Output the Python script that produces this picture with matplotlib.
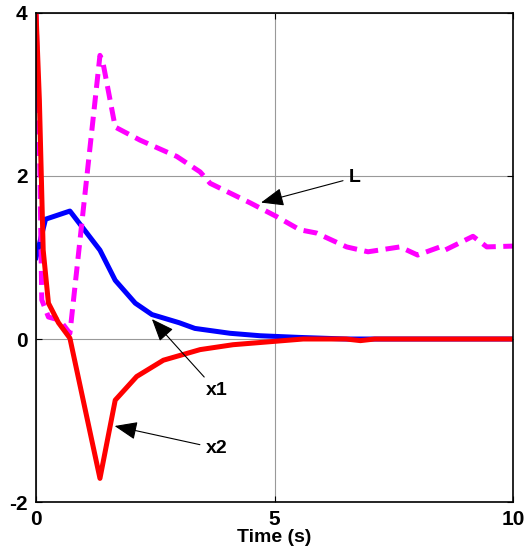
import matplotlib
matplotlib.use("Agg")
from matplotlib import pyplot as plt

plt.rcParams["font.family"] = ["Liberation Sans", "DejaVu Sans"]
plt.rcParams["font.weight"] = "bold"
plt.rcParams["axes.unicode_minus"] = False

# x1 state
t_x1 = [0.0, 0.2, 0.71, 1.34, 1.66, 2.08, 2.43, 3.0, 3.33, 4.07, 4.7, 5.5, 6.5, 10.0]
x1 = [1.0, 1.47, 1.57, 1.09, 0.72, 0.44, 0.30, 0.20, 0.13, 0.07, 0.04, 0.02, 0.0, 0.0]

# x2 state
t_x2 = [0.0, 0.07, 0.15, 0.26, 0.47, 0.71, 1.34, 1.66, 2.11, 2.67, 3.44, 4.13, 4.97,
        5.6, 6.5, 6.8, 7.1, 10.0]
x2 = [4.0, 2.93, 1.09, 0.44, 0.20, 0.01, -1.71, -0.75, -0.46, -0.26, -0.13, -0.07,
      -0.03, 0.0, 0.0, -0.02, 0.0, 0.0]

# L (dashed)
t_L = [0.0, 0.08, 0.12, 0.26, 0.5, 0.71, 1.34, 1.4, 1.66, 2.18, 2.95, 3.44, 3.65,
       4.49, 5.05, 5.53, 5.88, 6.51, 6.96, 7.63, 8.0, 8.47, 8.57, 9.16, 9.45, 10.0]
L = [4.0, 2.1, 0.48, 0.27, 0.23, 0.07, 3.48, 3.4, 2.6, 2.44, 2.24, 2.05, 1.91,
     1.67, 1.5, 1.34, 1.30, 1.13, 1.07, 1.13, 1.03, 1.13, 1.09, 1.26, 1.13, 1.14]

fig = plt.figure(figsize=(5.3, 5.57), dpi=100)
ax = fig.add_axes([0.068, 0.0987, 0.9, 0.878])

ax.plot(t_x1, x1, color="#0000ff", lw=3.6)
ax.plot(t_L, L, color="#ff00ff", lw=3.6, dashes=(2.8, 1.5))
ax.plot(t_x2, x2, color="#ff0000", lw=3.6)

ax.set_xlim(0, 10)
ax.set_ylim(-2, 4)
ax.set_xticks([0, 5, 10])
ax.set_yticks([-2, 0, 2, 4])
ax.grid(True, color="#999999", lw=0.8)
ax.tick_params(direction="in", length=4, labelsize=15, top=True, right=True, pad=6)
ax.set_xlabel("Time (s)", fontsize=14, fontweight="bold", labelpad=0)
for s in ax.spines.values():
    s.set_linewidth(1.2)

arrow = dict(arrowstyle="-|>,head_length=1.0,head_width=0.4", color="black", lw=0.8)
ax.annotate("L", xy=(4.66, 1.665), xytext=(6.55, 1.98), fontsize=14, fontweight="bold",
            va="center", arrowprops=arrow)
ax.annotate("x1", xy=(2.39, 0.27), xytext=(3.55, -0.63), fontsize=14, fontweight="bold",
            va="center", arrowprops=arrow)
ax.annotate("x2", xy=(1.59, -1.06), xytext=(3.55, -1.34), fontsize=14, fontweight="bold",
            va="center", arrowprops=arrow)

fig.savefig("out.png", dpi=100)
